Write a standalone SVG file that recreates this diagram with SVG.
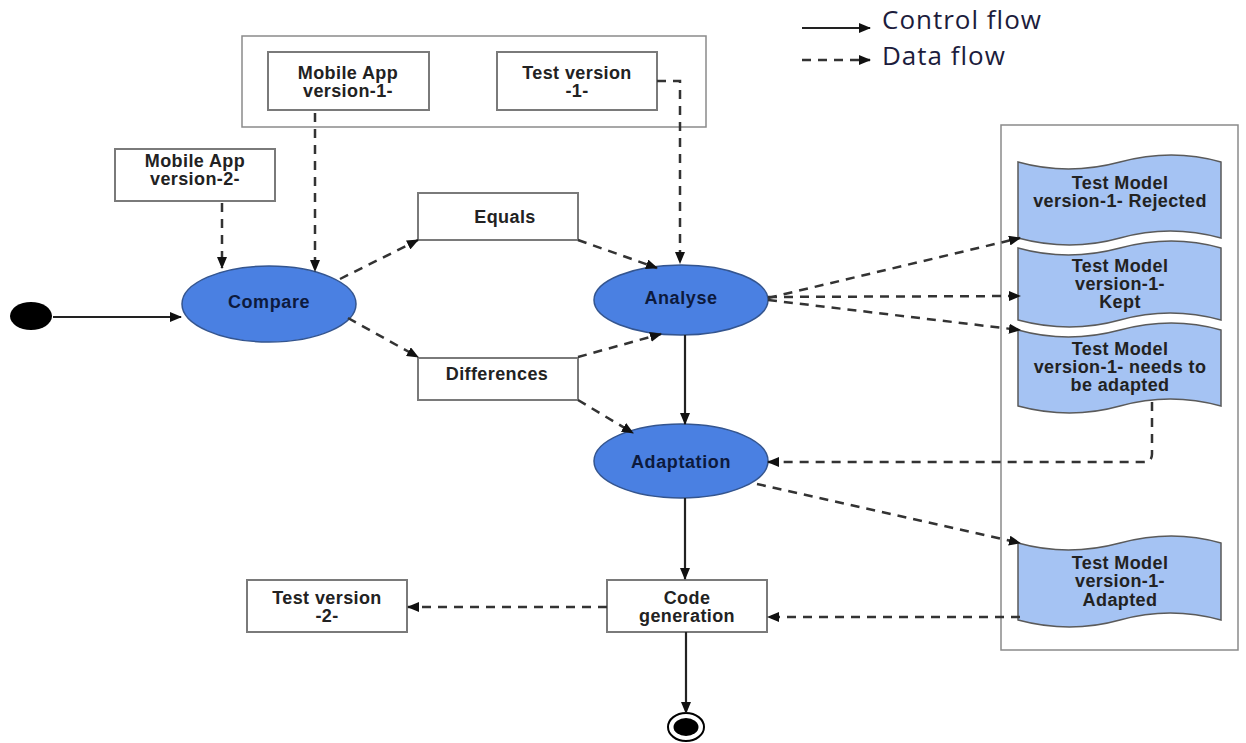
<svg xmlns="http://www.w3.org/2000/svg" width="1246" height="743" viewBox="0 0 1246 743">
<style>
.box{fill:#fff;stroke:#7a7a7a;stroke-width:2}
.cont{fill:#fff;stroke:#8a8a8a;stroke-width:1.5}
.act{fill:#4a80e2;stroke:#34558f;stroke-width:1.5}
.doc{fill:#a5c3f3;stroke:#5a5a5a;stroke-width:1.5}
.t{font-family:"Liberation Sans",Arial,sans-serif;font-weight:bold;font-size:18px;letter-spacing:0.4px;fill:#222;text-anchor:middle}
.ta{font-family:"Liberation Sans",Arial,sans-serif;font-weight:bold;font-size:18px;letter-spacing:0.6px;fill:#0d1a3d;text-anchor:middle}
.lg{font-family:"Open Sans",sans-serif;font-size:26px;letter-spacing:1px;fill:#1c1c3c}
.ctl{fill:none;stroke:#222;stroke-width:2.2;marker-end:url(#ah)}
.dat{fill:none;stroke:#333;stroke-width:2.5;stroke-dasharray:9 7;marker-end:url(#ah)}
</style>
<defs>
<marker id="ah" viewBox="0 0 12 10" refX="11" refY="5" markerWidth="12" markerHeight="10" markerUnits="userSpaceOnUse" orient="auto">
<path d="M0,0 L12,5 L0,10 Z" fill="#111"/>
</marker>
</defs>
<rect width="1246" height="743" fill="#fff"/>

<g id="legend">
<line x1="802" y1="28" x2="870" y2="28" class="ctl"/>
<line x1="802" y1="60" x2="870" y2="60" class="dat" stroke-dasharray="7 5"/>
<text x="882" y="29" class="lg">Control flow</text>
<text x="882" y="65" class="lg">Data flow</text>
</g>

<g id="container-top"><rect x="242" y="36" width="464" height="91" class="cont"/></g>
<g id="container-right"><rect x="1001" y="125" width="237" height="525" class="cont"/></g>

<g id="mobile-v1"><rect x="268" y="52" width="161" height="58" class="box"/>
<text class="t" x="348" y="79">Mobile App</text><text class="t" x="348" y="97">version-1-</text></g>
<g id="test-v1"><rect x="497" y="52" width="160" height="58" class="box"/>
<text class="t" x="577" y="79">Test version</text><text class="t" x="577" y="97">-1-</text></g>
<g id="mobile-v2"><rect x="115" y="149" width="160" height="52" class="box"/>
<text class="t" x="195" y="167">Mobile App</text><text class="t" x="195" y="185">version-2-</text></g>

<g id="start"><ellipse cx="31" cy="316" rx="21" ry="14" fill="#000"/></g>
<g id="compare"><ellipse cx="269" cy="304" rx="87" ry="38" class="act"/><text class="ta" x="269" y="308">Compare</text></g>
<g id="equals"><rect x="418" y="193" width="160" height="47" class="box"/><text class="t" x="505" y="223">Equals</text></g>
<g id="differences"><rect x="418" y="358" width="160" height="42" class="box"/><text class="t" x="497" y="380">Differences</text></g>
<g id="analyse"><ellipse cx="681" cy="300" rx="87" ry="35" class="act"/><text class="ta" x="681" y="304">Analyse</text></g>
<g id="adaptation"><ellipse cx="681" cy="461" rx="87" ry="37" class="act"/><text class="ta" x="681" y="468">Adaptation</text></g>
<g id="codegen"><rect x="607" y="580" width="160" height="52" class="box"/>
<text class="t" x="687" y="604">Code</text><text class="t" x="687" y="622">generation</text></g>
<g id="test-v2"><rect x="247" y="580" width="160" height="52" class="box"/>
<text class="t" x="327" y="604">Test version</text><text class="t" x="327" y="622">-2-</text></g>
<g id="end"><ellipse cx="686" cy="727" rx="18" ry="14" fill="#fff" stroke="#000" stroke-width="2"/><ellipse cx="686" cy="727" rx="12.5" ry="9" fill="#000"/></g>

<g id="tm-rejected"><path class="doc" d="M1018,162 Q1068,176 1120,162 T1221,162 L1221,238 Q1170,224 1120,238 T1018,238 Z"/>
<text class="t" x="1120" y="189">Test Model</text><text class="t" x="1120" y="207">version-1- Rejected</text></g>
<g id="tm-kept"><path class="doc" d="M1018,248 Q1068,262 1120,248 T1221,248 L1221,320 Q1170,306 1120,320 T1018,320 Z"/>
<text class="t" x="1120" y="272">Test Model</text><text class="t" x="1120" y="290">version-1-</text><text class="t" x="1120" y="308">Kept</text></g>
<g id="tm-needs"><path class="doc" d="M1018,330 Q1068,344 1120,330 T1221,330 L1221,406 Q1170,392 1120,406 T1018,406 Z"/>
<text class="t" x="1120" y="355">Test Model</text><text class="t" x="1120" y="373">version-1- needs to</text><text class="t" x="1120" y="391">be adapted</text></g>
<g id="tm-adapted"><path class="doc" d="M1018,543 Q1068,557 1120,543 T1221,543 L1221,620 Q1170,606 1120,620 T1018,620 Z"/>
<text class="t" x="1120" y="569">Test Model</text><text class="t" x="1120" y="587">version-1-</text><text class="t" x="1120" y="606">Adapted</text></g>

<g id="connectors">
<path class="ctl" d="M53,317 L181,317"/>
<path class="dat" d="M222,203 L222,268"/>
<path class="dat" d="M315,113 L315,271"/>
<path class="dat" d="M340,279 L418,240"/>
<path class="dat" d="M348,318 L418,357"/>
<path class="dat" d="M657,81 H680 V263"/>
<path class="dat" d="M578,240 L657,268"/>
<path class="dat" d="M578,357 L661,334"/>
<path class="dat" d="M578,400 L633,433"/>
<path class="ctl" d="M685,335 L685,424"/>
<path class="dat" d="M768,298 L1020,238"/>
<path class="dat" d="M768,297 L1020,296"/>
<path class="dat" d="M768,300 L1020,330"/>
<path class="dat" d="M1152,402 V454 Q1152,462 1144,462 H768"/>
<path class="dat" d="M757,484 L1020,543"/>
<path class="ctl" d="M685,498 L685,579"/>
<path class="dat" d="M607,607 L408,607"/>
<path class="dat" d="M1020,617 L768,617"/>
<path class="ctl" d="M686,632 L686,713"/>
</g>
</svg>
